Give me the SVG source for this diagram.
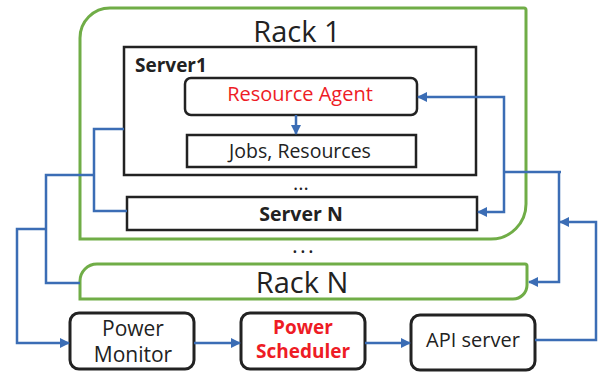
<svg xmlns="http://www.w3.org/2000/svg" width="602" height="375" viewBox="0 0 602 375">
  <style>
    text { font-family: "Open Sans", "Noto Sans", "DejaVu Sans", sans-serif; fill: #222; }
    .rack { fill: none; stroke: #70ad47; stroke-width: 3; }
    .box { fill: #fff; stroke: #222; stroke-width: 2.5; }
    .ctl { fill: #fff; stroke: #222; stroke-width: 3; }
    .wire { fill: none; stroke: #3b6db5; stroke-width: 2.5; }
    .arrow { fill: none; stroke: #3b6db5; stroke-width: 2.5; marker-end: url(#head); }
    .mid { text-anchor: middle; }
    .bold { font-weight: bold; }
    .red { fill: #ee1c25; }
  </style>
  <defs>
    <marker id="head" viewBox="0 0 10 10" refX="9" refY="5" markerWidth="4" markerHeight="4" orient="auto" markerUnits="strokeWidth">
      <path d="M0,0 L10,5 L0,10 Z" fill="#3b6db5"/>
    </marker>
  </defs>

  <!-- Rack 1 -->
  <g id="rack1">
    <path class="rack" d="M80,38 A30,30 0 0 1 110,8 H524 Q526,8 526,10 V204 A35,35 0 0 1 491,239 H80 Z"/>
    <text x="297" y="42" class="mid" font-size="29">Rack 1</text>
  </g>

  <!-- Server 1 -->
  <g id="server1">
    <rect class="box" x="124" y="47" width="352" height="128"/>
    <text x="135" y="72" class="bold" font-size="19">Server1</text>
  </g>

  <g id="resource-agent">
    <rect class="box" x="185" y="78" width="232" height="37" rx="6"/>
    <text x="300" y="101" class="mid red" font-size="20">Resource Agent</text>
  </g>

  <g id="jobs">
    <rect class="box" x="187" y="135" width="229" height="32"/>
    <text x="300" y="158" class="mid" font-size="19.5">Jobs, Resources</text>
  </g>

  <text x="301" y="190" class="mid" font-size="20">...</text>

  <!-- Server N -->
  <g id="serverN">
    <rect class="box" x="127" y="197" width="350" height="33"/>
    <text x="301" y="221" class="mid bold" font-size="19.5">Server N</text>
  </g>

  <text x="304" y="253" class="mid" font-size="22" letter-spacing="2.2">...</text>

  <!-- Rack N -->
  <g id="rackN">
    <path class="rack" d="M80,281 A17,17 0 0 1 97,264 H525 Q527,264 527,266 V285 A14,14 0 0 1 513,299 H80 Z"/>
    <text x="302" y="293" class="mid" font-size="29">Rack N</text>
  </g>

  <!-- Control plane -->
  <g id="power-monitor">
    <rect class="ctl" x="70" y="313" width="124" height="56" rx="9"/>
    <text x="133" y="336" class="mid" font-size="21">Power</text>
    <text x="133" y="362" class="mid" font-size="21">Monitor</text>
  </g>

  <g id="power-scheduler">
    <rect class="ctl" x="241" y="313" width="124" height="56" rx="9"/>
    <text x="303" y="334" class="mid bold red" font-size="19">Power</text>
    <text x="303" y="358" class="mid bold red" font-size="19">Scheduler</text>
  </g>

  <g id="api-server">
    <rect class="ctl" x="411" y="315" width="124" height="55" rx="9"/>
    <text x="473" y="347" class="mid" font-size="20">API server</text>
  </g>

  <!-- Connectors -->
  <g id="connectors">
    <path class="arrow" d="M296,115 V134"/>
    <!-- power readings out of the racks -->
    <path class="wire" d="M124,129 H94 V211 H127"/>
    <path class="wire" d="M94,175 H46 V283 H80"/>
    <path class="arrow" d="M46,229 H17 V343 H69"/>
    <path class="arrow" d="M194,343 H240"/>
    <path class="arrow" d="M365,343 H410"/>
    <!-- commands back into the racks -->
    <path class="arrow" d="M535,340 H596 V222 H560"/>
    <path class="arrow" d="M559,172 V282 H529"/>
    <path class="wire" d="M504,172 H561"/>
    <path class="arrow" d="M504,172 V97 H418"/>
    <path class="arrow" d="M504,172 V212 H478"/>
  </g>
</svg>
